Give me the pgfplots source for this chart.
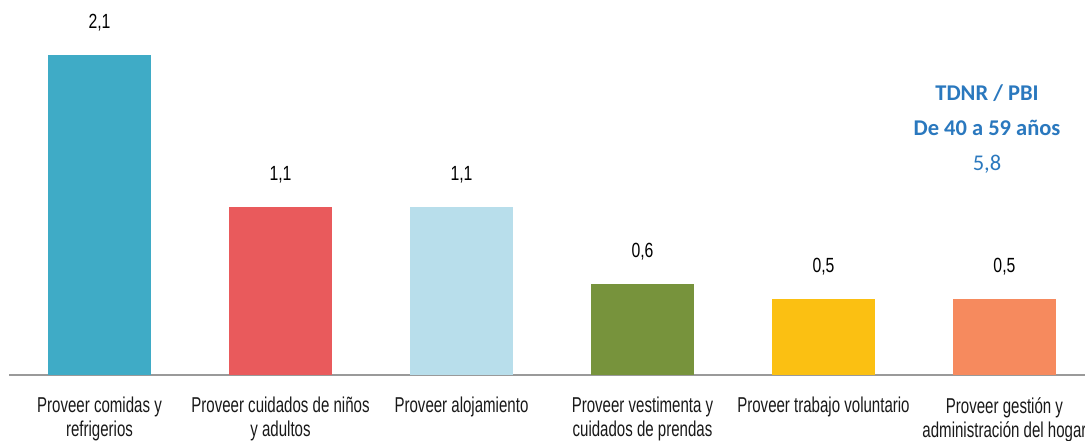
\documentclass[border=0pt]{standalone}
\usepackage{fontspec}
\setmainfont{Liberation Sans}[FakeStretch=0.70]
\newfontfamily\valfont{Liberation Sans}[FakeStretch=0.77]
\newfontfamily\calibri{Carlito}
\usepackage{pgfplots}
\pgfplotsset{compat=1.18}
\definecolor{c1}{HTML}{3FABC6}
\definecolor{c2}{HTML}{E95A5C}
\definecolor{c3}{HTML}{B8DEEB}
\definecolor{c4}{HTML}{77933C}
\definecolor{c5}{HTML}{FBC012}
\definecolor{c6}{HTML}{F68A5E}
\definecolor{tblue}{HTML}{2A78BE}
\definecolor{axgray}{HTML}{9A9A9A}
\begin{document}
\begin{tikzpicture}
\begin{axis}[
  at={(9bp,66bp)}, anchor=south west,
  scale only axis,
  width=1076bp, height=365.76bp,
  xmin=-0.5, xmax=5.445,
  ymin=0, ymax=2.4,
  ybar, bar width=103bp, bar shift=0pt,
  axis x line*=bottom,
  axis y line=none,
  x axis line style={axgray, line width=1.8bp, -},
  xtick={0,1,2,3,4,5},
  xticklabels={Proveer comidas y\\refrigerios,
               Proveer cuidados de niños\\y adultos,
               Proveer alojamiento,
               Proveer vestimenta y\\cuidados de prendas,
               Proveer trabajo voluntario,
               Proveer gestión y\\administración del hogar},
  major tick length=0pt,
  xticklabel style={align=center, anchor=north, inner sep=0pt, yshift=-22bp,
    font=\fontsize{21.5bp}{24bp}\selectfont, text=black!90},
  point meta=explicit symbolic,
  nodes near coords,
  nodes near coords style={anchor=base, inner sep=0pt, yshift=26.5bp,
    font=\valfont\fontsize{20.5bp}{22bp}\selectfont, text=black},
  clip=false,
]
\addplot[fill=c1, draw=none] coordinates {(0,2.1) [2,1]};
\addplot[fill=c2, draw=none] coordinates {(1,1.1) [1,1]};
\addplot[fill=c3, draw=none] coordinates {(2,1.1) [1,1]};
\addplot[fill=c4, draw=none] coordinates {(3,0.6) [0,6]};
\addplot[fill=c5, draw=none] coordinates {(4,0.5) [0,5]};
\addplot[fill=c6, draw=none] coordinates {(5,0.5) [0,5]};
\end{axis}
\node[anchor=base, inner sep=0pt, text=tblue, font=\calibri\bfseries\fontsize{22.5bp}{26bp}\selectfont] at (987bp,340bp) {TDNR / PBI};
\node[anchor=base, inner sep=0pt, text=tblue, font=\calibri\bfseries\fontsize{22.5bp}{26bp}\selectfont] at (987bp,305bp) {De 40 a 59 años};
\node[anchor=base, inner sep=0pt, text=tblue, font=\calibri\fontsize{22.5bp}{26bp}\selectfont] at (987bp,270bp) {5,8};
\pgfresetboundingbox
\path (0,0) rectangle (1085bp,441bp);
\end{tikzpicture}
\end{document}
